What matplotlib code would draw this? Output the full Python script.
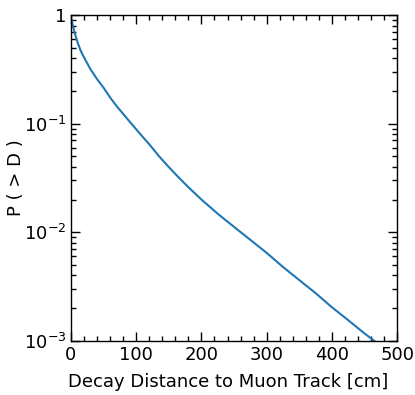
import numpy as np
from matplotlib import pyplot as plt
from matplotlib.ticker import MultipleLocator, FuncFormatter, LogLocator, NullFormatter

# decay distance (cm) and survival probability
distance = [0, 3, 6, 10, 15, 20, 30, 40, 50, 60, 70, 80, 90, 100, 110, 120,
            135, 150, 165, 180, 200, 225, 250, 275, 300, 325, 350, 375,
            400, 425, 450, 465]
prob = [0.955, 0.794, 0.676, 0.562, 0.468, 0.407, 0.316, 0.257, 0.214,
        0.174, 0.145, 0.123, 0.1042, 0.0887, 0.0755, 0.0646, 0.0501, 0.0398,
        0.0320, 0.0260, 0.0200, 0.0148, 0.0112, 0.00851, 0.00646, 0.00479,
        0.00363, 0.00275, 0.00204, 0.00155, 0.00117, 0.00100]


def log_label(v, pos):
    if abs(v - 1) < 1e-9:
        return '1'
    return '$10^{%d}$' % int(round(np.log10(v)))


fig = plt.figure(figsize=(4.15, 3.95), dpi=100)
ax = fig.add_axes([0.171, 0.137, 0.786, 0.825])
ax.plot(distance, prob, color='#1f77b4', lw=1.5)

ax.set_yscale('log')
ax.set_xlim(0, 500)
ax.set_ylim(1e-3, 1)
ax.xaxis.set_major_locator(MultipleLocator(100))
ax.xaxis.set_minor_locator(MultipleLocator(20))
ax.yaxis.set_major_locator(LogLocator(base=10, numticks=10))
ax.yaxis.set_minor_locator(LogLocator(base=10, subs=np.arange(2, 10), numticks=10))
ax.yaxis.set_major_formatter(FuncFormatter(log_label))
ax.yaxis.set_minor_formatter(NullFormatter())

ax.tick_params(which='both', direction='in', top=True, right=True, labelsize=13)
ax.tick_params(which='major', length=6.5, width=1)
ax.tick_params(which='minor', length=3.5, width=1)
for s in ax.spines.values():
    s.set_linewidth(1)

ax.set_xlabel('Decay Distance to Muon Track [cm]', fontsize=13)
ax.set_ylabel('P ( > D )', fontsize=13)
ax.xaxis.set_label_coords(0.482, -0.1)
ax.yaxis.set_label_coords(-0.14, 0.5)

plt.savefig('out.png', dpi=100)
plt.close()
